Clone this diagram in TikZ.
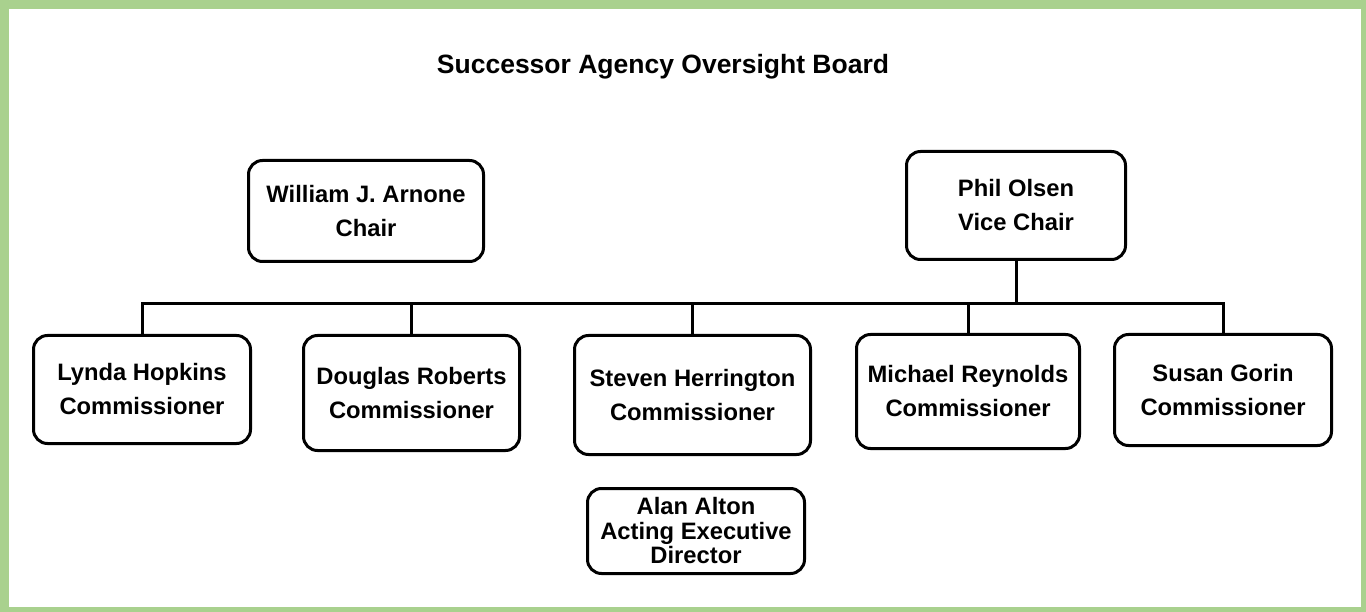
\documentclass[tikz,border=0pt]{standalone}
\usepackage{fontspec}
\setmainfont{Liberation Sans}
\definecolor{framegreen}{HTML}{A9D18E}
\begin{document}
\begin{tikzpicture}[x=1pt,y=-1pt,
  person/.style={draw=black, line width=3pt, rounded corners=14pt, fill=white,
    align=center, inner sep=0pt,
    font={\fontsize{23.75}{34}\selectfont\bfseries}},
  tightperson/.style={person, font={\fontsize{23.75}{24.5}\selectfont\bfseries}},
  link/.style={draw=black, line width=3pt}]
  % frame
  \fill[framegreen] (0,0) rectangle (1366,612);
  \fill[white] (9,9) rectangle (1361,607);
  \useasboundingbox (0,0) rectangle (1366,612);
  % title
  \node[anchor=base, inner sep=0pt, font={\fontsize{26.5}{30}\selectfont\bfseries}] (title) at (663,73.5) {Successor Agency Oversight Board};
  % boxes
  \node[person, minimum width=235pt, minimum height=101pt] (chair) at (366,211) {William J. Arnone\\Chair};
  \node[person, minimum width=219pt, minimum height=108pt] (phil) at (1016,205.5) {Phil Olsen\\Vice Chair};
  \node[person, minimum width=217pt, minimum height=108pt] (lynda) at (142,389.5) {Lynda Hopkins\\Commissioner};
  \node[person, minimum width=216pt, minimum height=115pt] (douglas) at (411.5,393) {Douglas Roberts\\Commissioner};
  \node[person, minimum width=236pt, minimum height=119pt] (steven) at (692.5,395) {Steven Herrington\\Commissioner};
  \node[person, minimum width=223pt, minimum height=114pt] (michael) at (968,391.5) {Michael Reynolds\\Commissioner};
  \node[person, minimum width=217pt, minimum height=111pt] (susan) at (1223,390) {Susan Gorin\\Commissioner};
  \node[tightperson, minimum width=217pt, minimum height=85pt] (alan) at (696,531) {Alan Alton\\Acting Executive\\Director};
  % connectors
  \coordinate (busy) at (0,304);
  \coordinate (junction) at (phil.south |- busy);
  \draw[link] (phil.south) -- (junction);
  \draw[link] (lynda.north) |- (junction);
  \draw[link] (douglas.north) |- (junction);
  \draw[link] (steven.north) |- (junction);
  \draw[link] (michael.north) |- (junction);
  \draw[link] (susan.north) |- (junction);
\end{tikzpicture}
\end{document}
